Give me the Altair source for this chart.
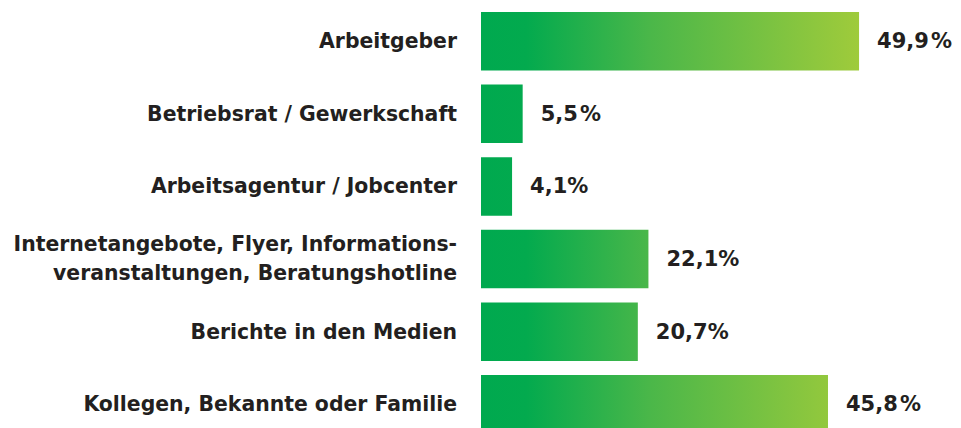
import altair as alt
import pandas as pd

categories = [
    "Arbeitgeber",
    "Betriebsrat / Gewerkschaft",
    "Arbeitsagentur / Jobcenter",
    "Internetangebote, Flyer, Informations-|veranstaltungen, Beratungshotline",
    "Berichte in den Medien",
    "Kollegen, Bekannte oder Familie",
]
values = [49.9, 5.5, 4.1, 22.1, 20.7, 45.8]
value_labels = ["49,9\u200a%", "5,5\u200a%", "4,1%", "22,1%", "20,7%", "45,8\u200a%"]

df = pd.DataFrame({"cat": categories, "val": values, "lab": value_labels})
vmax = max(values)

FONT = "DejaVu Sans"
TXT = "#231f20"

y_enc = alt.Y(
    "cat:N",
    sort=categories,
    title=None,
    scale=alt.Scale(paddingInner=0.194, paddingOuter=0),
    axis=None,
)
x_enc = alt.X("val:Q", scale=alt.Scale(domain=[0, 62.3]), axis=None, title=None)

layers = []
for c, v in zip(categories, values):
    grad = alt.LinearGradient(
        gradient="linear",
        x1=0, x2=vmax / v, y1=0, y2=0,
        stops=[
            alt.GradientStop(offset=0, color="#00a94f"),
            alt.GradientStop(offset=0.12, color="#03aa4e"),
            alt.GradientStop(offset=0.45, color="#4bb749"),
            alt.GradientStop(offset=1, color="#9fcb3b"),
        ],
    )
    layers.append(
        alt.Chart(df)
        .transform_filter(alt.datum.cat == c)
        .mark_bar(color=grad)
        .encode(x=x_enc, y=y_enc)
    )

label_style = dict(
    align="right", baseline="middle", font=FONT, fontSize=20.4,
    fontWeight="bold", color=TXT, lineBreak="|", lineHeight=29,
)

single_labels = (
    alt.Chart(df)
    .transform_filter("indexof(datum.cat, '|') < 0")
    .mark_text(**label_style, dy=1)
    .encode(x=alt.value(-24), y=y_enc, text="cat:N")
)
multi_labels = (
    alt.Chart(df)
    .transform_filter("indexof(datum.cat, '|') >= 0")
    .mark_text(**label_style, dy=-14)
    .encode(x=alt.value(-24), y=y_enc, text="cat:N")
)

text = alt.Chart(df).mark_text(
    align="left", baseline="middle", dx=18, dy=1,
    font=FONT, fontSize=21, fontWeight="bold", color=TXT,
).encode(x=x_enc, y=y_enc, text="lab:N")

chart = (
    alt.layer(*layers, single_labels, multi_labels, text)
    .properties(
        width=472,
        height=421.5,
        autosize=alt.AutoSizeParams(type="none"),
        padding={"left": 473, "top": 4, "right": 0, "bottom": 0},
    )
    .configure_view(stroke=None)
)

chart.save("out.html", embed_options={"renderer": "svg", "actions": False})
